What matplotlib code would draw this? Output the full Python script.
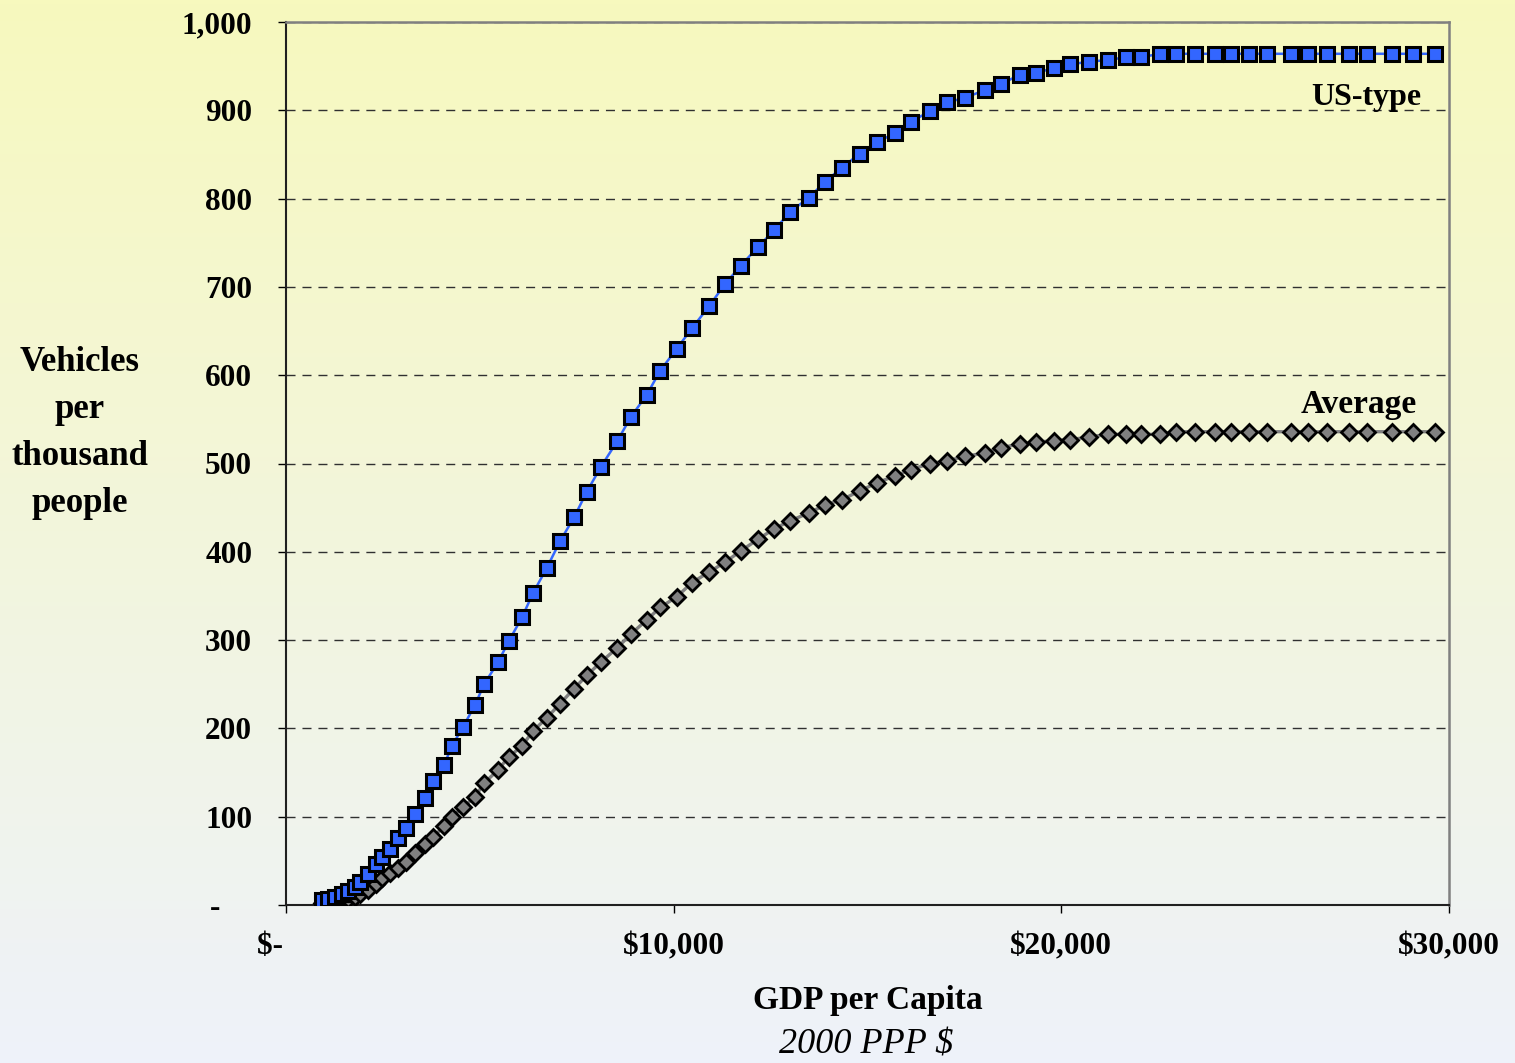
import numpy as np
import matplotlib
matplotlib.use("Agg")
import matplotlib.pyplot as plt

plt.rcParams["font.family"] = ["Liberation Serif", "DejaVu Serif"]

# GDP per capita (2000 PPP $) along the projection path
gdp_per_capita = [
    930, 1080, 1260, 1440, 1600, 1780, 1910, 2120, 2320, 2480,
    2680, 2890, 3100, 3330, 3590, 3790, 4080, 4280, 4570, 4870,
    5110, 5470, 5750, 6090, 6370, 6730, 7070, 7430, 7760, 8120,
    8540, 8900, 9310, 9650, 10080, 10470, 10910, 11320, 11730, 12170,
    12590, 13000, 13490, 13900, 14340, 14800, 15240, 15710, 16120, 16610,
    17050, 17510, 18030, 18440, 18930, 19340, 19810, 20220, 20710, 21200,
    21660, 22050, 22540, 22950, 23440, 23960, 24370, 24840, 25300, 25920,
    26360, 26850, 27420, 27880, 28520, 29070, 29630,
]

# vehicles per thousand people
vehicles_us_type = [
    6, 7, 9, 12, 16, 20, 26, 35, 46, 54,
    63, 76, 87, 103, 121, 140, 159, 180, 202, 226,
    250, 275, 299, 326, 353, 382, 412, 439, 468, 496,
    525, 553, 578, 605, 630, 653, 678, 703, 724, 745,
    764, 785, 801, 819, 835, 851, 864, 874, 887, 899,
    909, 914, 923, 930, 940, 942, 948, 952, 955, 957,
    960, 960, 964, 964, 964, 964, 964, 964, 964, 964,
    964, 964, 964, 964, 964, 964, 964,
]
vehicles_average = [
    2, 3, 4, 6, 7, 9, 12, 17, 24, 31,
    36, 42, 49, 59, 69, 77, 89, 100, 111, 122,
    138, 153, 168, 180, 197, 212, 228, 245, 260, 275,
    291, 307, 323, 337, 349, 365, 377, 388, 401, 414,
    426, 435, 444, 453, 459, 469, 478, 486, 493, 500,
    503, 508, 512, 518, 522, 524, 526, 527, 530, 533,
    533, 533, 533, 536, 536, 536, 536, 536, 536, 536,
    536, 536, 536, 536, 536, 536, 536,
]

y_ticks = [0, 100, 200, 300, 400, 500, 600, 700, 800, 900, 1000]
y_tick_labels = ["-    ", "100", "200", "300", "400", "500", "600", "700",
                 "800", "900", "1,000"]
x_ticks = [0, 10000, 20000, 30000]
x_tick_labels = ["$-    ", "$10,000", "$20,000", "$30,000"]

W, H = 1515, 1063
fig = plt.figure(figsize=(W / 100, H / 100), dpi=100)

# pale yellow to pale blue backdrop
bg = fig.add_axes([0, 0, 1, 1], zorder=-10)
top = np.array([247, 249, 190]) / 255
bottom = np.array([238, 242, 250]) / 255
t = np.linspace(0, 1, 256)[:, None]
grad = top * (1 - t) + bottom * t
bg.imshow(grad[:, None, :], aspect="auto", extent=[0, 1, 0, 1])
bg.axis("off")

ax = fig.add_axes([286 / W, 1 - 905 / H, (1449 - 286) / W, (905 - 22) / H])
ax.set_facecolor("none")

ax.plot(gdp_per_capita, vehicles_average, color="#808080", linewidth=2.4,
        marker="D", markersize=8.5, markerfacecolor="#808080",
        markeredgecolor="black", markeredgewidth=2, zorder=3)
ax.plot(gdp_per_capita, vehicles_us_type, color="#3366FF", linewidth=1.8,
        marker="s", markersize=10.5, markerfacecolor="#3366FF",
        markeredgecolor="black", markeredgewidth=2.2, zorder=4)

ax.set_xlim(0, 30000)
ax.set_ylim(0, 1000)
ax.set_yticks(y_ticks)
ax.set_yticklabels(y_tick_labels, fontweight="bold")
ax.set_xticks(x_ticks)
ax.set_xticklabels(x_tick_labels, fontweight="bold")
ax.tick_params(axis="y", direction="out", length=5.8, width=1, pad=18.5,
               labelsize=22.5)
ax.tick_params(axis="x", direction="out", length=5.8, width=1, pad=14,
               labelsize=22.5)

ax.yaxis.grid(True, linestyle=(0, (6.5, 5)), color="#303030", linewidth=1)
ax.set_axisbelow(True)

for side in ["top", "right"]:
    ax.spines[side].set_color("#808080")
    ax.spines[side].set_linewidth(1.8)
for side in ["left", "bottom"]:
    ax.spines[side].set_color("#202020")
    ax.spines[side].set_linewidth(1.5)

ax.text(29300, 914, "US-type", ha="right", va="center", fontsize=23,
        fontweight="bold")
ax.text(29170, 567, "Average", ha="right", va="center", fontsize=24,
        fontweight="bold")

fig.text(80 / W, 1 - 433 / H, "Vehicles\nper\nthousand\npeople",
         ha="center", va="center", multialignment="center", linespacing=1.55,
         fontsize=25, fontweight="bold")
fig.text(868 / W, 1 - 1001 / H, "GDP per Capita", ha="center", va="center",
         fontsize=24, fontweight="bold")
fig.text(866 / W, 1 - 1045 / H, "2000 PPP $", ha="center", va="center",
         fontsize=26, fontstyle="italic")

fig.savefig("out.png", dpi=100)
